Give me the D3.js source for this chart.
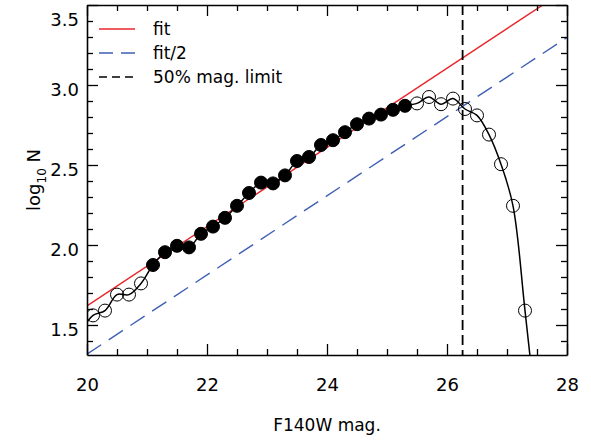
<!DOCTYPE html>
<html>
<head>
<meta charset="utf-8">
<script src="https://cdn.jsdelivr.net/npm/d3@7"></script>
<style>
  body { margin: 0; background: #fff; }
  svg { display: block; }
  text { font-family: "DejaVu Sans", sans-serif; fill: #000; }
</style>
</head>
<body>
<div id="chart"></div>
<script>
// luminosity function, binned in F140W
const mags = [19.9, 20.1, 20.3, 20.5, 20.7, 20.9, 21.1, 21.3, 21.5, 21.7, 21.9, 22.1, 22.3,
  22.5, 22.7, 22.9, 23.1, 23.3, 23.5, 23.7, 23.9, 24.1, 24.3, 24.5, 24.7, 24.9, 25.1, 25.3,
  25.5, 25.7, 25.9, 26.1, 26.3, 26.5, 26.7, 26.9, 27.1, 27.3, 27.5];
const logN = [1.46, 1.56, 1.59, 1.69, 1.69, 1.76, 1.875, 1.955, 1.995, 1.985, 2.07, 2.115, 2.17,
  2.245, 2.325, 2.39, 2.385, 2.435, 2.525, 2.55, 2.625, 2.655, 2.705, 2.755, 2.79, 2.815, 2.845, 2.87,
  2.885, 2.925, 2.88, 2.915, 2.85, 2.81, 2.69, 2.505, 2.245, 1.59, 0.9];
// bins used in the fit (filled symbols)
const fitRange = [21.0, 25.4];

const fitMag = [20, 28];
const fitVal = [1.62, 3.60];
const halfVal = [1.318, 3.297];
const magLimit = 26.26;

const xMajor = [20, 22, 24, 26, 28];
const yMajor = [1.5, 2.0, 2.5, 3.0, 3.5];
const legendNames = ["fit", "fit/2", "50% mag. limit"];

const W = 591, H = 441;
const m = { left: 87, right: 24, top: 5, bottom: 86 };
const iw = W - m.left - m.right, ih = H - m.top - m.bottom;

const x = d3.scaleLinear().domain([20, 28]).range([0, iw]);
const y = d3.scaleLinear().domain([1.3125, 3.5]).range([ih, 0]);

const svg = d3.select("#chart").append("svg").attr("width", W).attr("height", H);
svg.append("rect").attr("width", W).attr("height", H).attr("fill", "#fff");
const g = svg.append("g").attr("transform", `translate(${m.left},${m.top})`);

g.append("clipPath").attr("id", "clip")
  .append("rect").attr("width", iw).attr("height", ih);

const plot = g.append("g").attr("clip-path", "url(#clip)");

const red = "#e8262b", blue = "#3f5fb3";

// fit lines
const fitLine = d3.line().x(d => x(d[0])).y(d => y(d[1]));
plot.append("path").datum(fitMag.map((d, i) => [d, fitVal[i]]))
  .attr("d", fitLine).attr("fill", "none").attr("stroke", red).attr("stroke-width", 1.4);
plot.append("path").datum(fitMag.map((d, i) => [d, halfVal[i]]))
  .attr("d", fitLine).attr("fill", "none").attr("stroke", blue).attr("stroke-width", 1.4)
  .attr("stroke-dasharray", "17,9");

// completeness limit
plot.append("line")
  .attr("x1", x(magLimit)).attr("x2", x(magLimit))
  .attr("y1", 0).attr("y2", ih)
  .attr("stroke", "#000").attr("stroke-width", 1.8).attr("stroke-dasharray", "10,5");

// data curve
const pts = mags.map((d, i) => ({ mag: d, v: logN[i], used: d >= fitRange[0] && d <= fitRange[1] }));
const curve = d3.line().x(d => x(d.mag)).y(d => y(d.v)).curve(d3.curveCatmullRom.alpha(0.5));
plot.append("path").datum(pts).attr("d", curve)
  .attr("fill", "none").attr("stroke", "#000").attr("stroke-width", 1.5);

plot.selectAll("circle.pt").data(pts).enter().append("circle")
  .attr("class", "pt")
  .attr("cx", d => x(d.mag)).attr("cy", d => y(d.v)).attr("r", 6.5)
  .attr("fill", d => d.used ? "#000" : "none")
  .attr("stroke", "#000").attr("stroke-width", 1);

// axes, ticks drawn inward on all four sides
const xMinor = d3.range(20, 28.01, 0.5).filter(v => !xMajor.includes(v));
const yMinor = d3.range(14, 35, 1).map(v => v / 10).filter(v => !yMajor.includes(v));

function addAxis(axisFn, scale, major, minor, tx, labels) {
  const maj = axisFn(scale).tickValues(major).tickSizeInner(-11).tickSizeOuter(0)
    .tickPadding(8).tickFormat(labels ? labels : () => "");
  const mnr = axisFn(scale).tickValues(minor).tickSizeInner(-6).tickSizeOuter(0).tickFormat(() => "");
  const a = g.append("g").attr("transform", tx).call(maj);
  g.append("g").attr("transform", tx).call(mnr).select(".domain").remove();
  a.selectAll("line").attr("stroke-width", 1.3);
  a.select(".domain").attr("stroke-width", 1.6);
  return a;
}

const xAx = addAxis(d3.axisBottom, x, xMajor, xMinor, `translate(0,${ih})`, d3.format("d"));
addAxis(d3.axisTop, x, xMajor, xMinor, "translate(0,0)", null);
const yAx = addAxis(d3.axisLeft, y, yMajor, yMinor, "translate(0,0)", d3.format(".1f"));
addAxis(d3.axisRight, y, yMajor, yMinor, `translate(${iw},0)`, null);

g.selectAll(".tick line").attr("stroke-width", 1.3);

xAx.selectAll("text").attr("font-size", 18).attr("dy", "1.55em")
  .style("font-family", "DejaVu Sans");
// labels sit a little below their tick; the top one is kept inside the frame
yAx.selectAll("text").attr("font-size", 18).style("font-family", "DejaVu Sans")
  .attr("dy", d => y(d) < 10 ? "1.15em" : "0.6em");

// axis titles
g.append("text").attr("x", iw / 2).attr("y", ih + 76)
  .attr("text-anchor", "middle").attr("font-size", 17).text("F140W mag.");

const yt = svg.append("text")
  .attr("transform", `translate(40,${m.top + ih / 2}) rotate(-90)`)
  .attr("text-anchor", "middle").attr("font-size", 18);
yt.append("tspan").text("log");
yt.append("tspan").attr("font-size", 12).attr("dy", 6).text("10");
yt.append("tspan").attr("dy", -6).text(" N");

// legend
const legendStyles = [
  { color: red, dash: null, width: 1.4 },
  { color: blue, dash: "14,8", width: 1.4 },
  { color: "#000", dash: "8,5", width: 1.6 }
];
const lg = g.selectAll("g.leg").data(legendNames).enter().append("g")
  .attr("class", "leg")
  .attr("transform", (d, i) => `translate(12,${24 + i * 24})`);
lg.append("line").attr("x1", 0).attr("x2", 36)
  .attr("stroke", (d, i) => legendStyles[i].color)
  .attr("stroke-width", (d, i) => legendStyles[i].width)
  .attr("stroke-dasharray", (d, i) => legendStyles[i].dash);
lg.append("text").attr("x", 54).attr("dy", "0.35em").attr("font-size", 17).text(d => d);
</script>
</body>
</html>
